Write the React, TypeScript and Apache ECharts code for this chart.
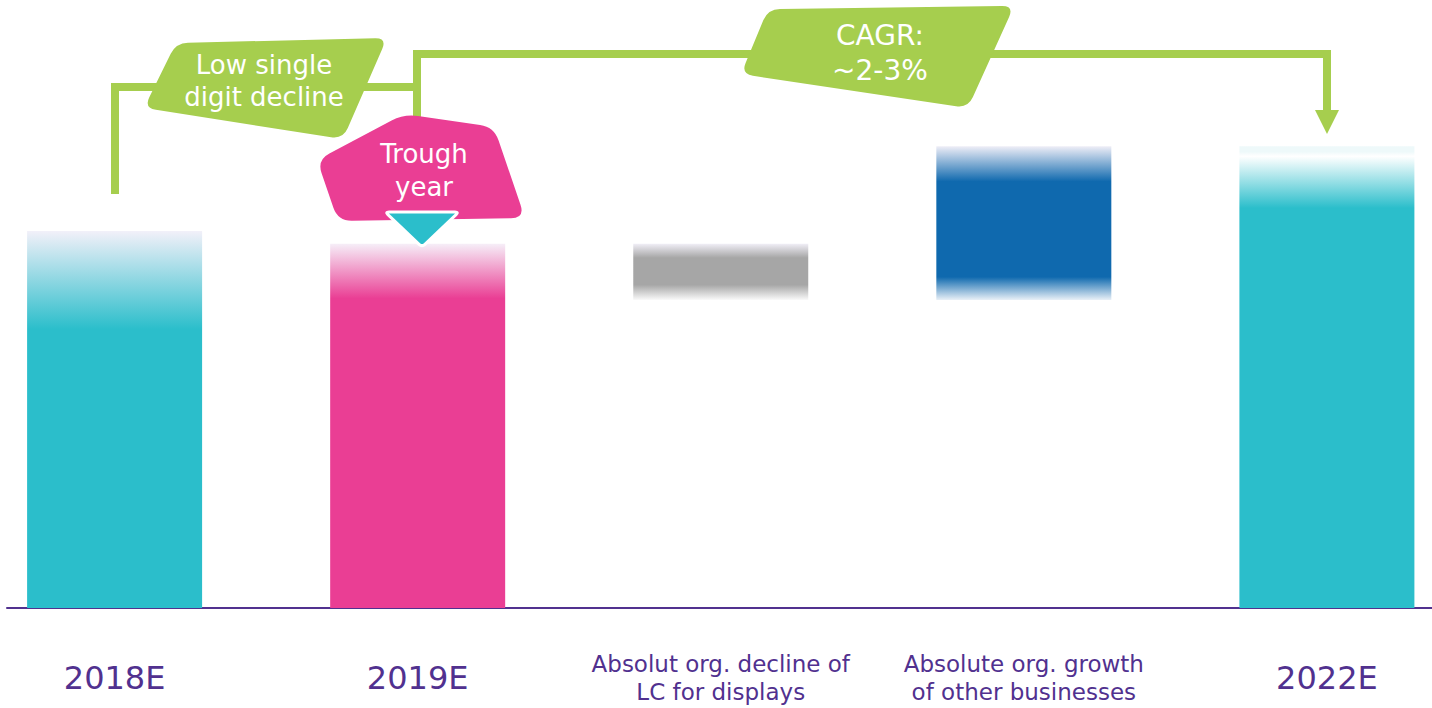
import React, { useEffect, useRef } from "react";
import * as echarts from "echarts";

const categories = [
  "2018E",
  "2019E",
  "Absolut org. decline of\nLC for displays",
  "Absolute org. growth\nof other businesses",
  "2022E",
];
// kind: total bars start at zero, delta bars float on the running level
const kinds = ["total", "total", "delta", "delta", "total"];
const values = [100, 96.6, -14.9, 40.8, 122.5];

const TEAL = "#2bbecb";
const PINK = "#ea3e94";
const GREY = "#a6a6a6";
const BLUE = "#0f69ae";
const GREEN = "#a6ce4e";
const PURPLE = "#51318f";
const FONT = "DejaVu Sans";

function roundedPath(pts: number[][], r: number): string {
  const n = pts.length;
  let d = "";
  for (let i = 0; i < n; i++) {
    const p = pts[i];
    const pr = pts[(i - 1 + n) % n];
    const nx = pts[(i + 1) % n];
    const v1 = [pr[0] - p[0], pr[1] - p[1]];
    const v2 = [nx[0] - p[0], nx[1] - p[1]];
    const l1 = Math.hypot(v1[0], v1[1]);
    const l2 = Math.hypot(v2[0], v2[1]);
    const r1 = Math.min(r, l1 / 2);
    const r2 = Math.min(r, l2 / 2);
    const a = [p[0] + (v1[0] / l1) * r1, p[1] + (v1[1] / l1) * r1];
    const b = [p[0] + (v2[0] / l2) * r2, p[1] + (v2[1] / l2) * r2];
    d += (i === 0 ? "M" : "L") + a[0].toFixed(1) + " " + a[1].toFixed(1) + " ";
    d += "Q" + p[0] + " " + p[1] + " " + b[0].toFixed(1) + " " + b[1].toFixed(1) + " ";
  }
  return d + "Z";
}

const lowPts = [[176, 43], [387, 38], [343, 139], [144, 108]];
const cagrPts = [[768, 9], [1014, 6], [968, 108], [741, 74]];
const troughPts = [[317, 160], [404, 114], [494, 127], [525, 218], [338, 221]];
const triPts = [[385, 212], [459, 212], [422, 247]];

echarts.graphic.registerShape("calloutLow", echarts.graphic.extendPath(roundedPath(lowPts, 12), {}) as any);
echarts.graphic.registerShape("calloutCagr", echarts.graphic.extendPath(roundedPath(cagrPts, 12), {}) as any);
echarts.graphic.registerShape("calloutTrough", echarts.graphic.extendPath(roundedPath(troughPts, 14), {}) as any);
echarts.graphic.registerShape("triMark", echarts.graphic.extendPath(roundedPath(triPts, 4), {}) as any);

function grad(stops: [number, string][]) {
  return new echarts.graphic.LinearGradient(
    0, 0, 0, 1,
    stops.map(([offset, color]) => ({ offset, color }))
  );
}

const fills = [
  grad([[0, "#f2f0f9"], [0.26, TEAL], [1, TEAL]]),
  grad([[0, "#f6eef8"], [0.15, PINK], [1, PINK]]),
  grad([[0, "#f0eef6"], [0.25, GREY], [0.73, GREY], [1, "#fafafa"]]),
  grad([[0, "#efeef7"], [0.23, BLUE], [0.85, BLUE], [1, "#e9f0f7"]]),
  grad([[0, "#eef9fa"], [0.012, "#eef9fa"], [0.022, "#ffffff"], [0.134, TEAL], [1, TEAL]]),
];

export default function App() {
  const ref = useRef<HTMLDivElement>(null);
  useEffect(() => {
    if (!ref.current) return;
    const chart = echarts.init(ref.current, null, { renderer: "svg" });

    const bases: number[] = [];
    const heights: number[] = [];
    let level = 0;
    values.forEach((v, i) => {
      if (kinds[i] === "total") {
        bases.push(0);
        heights.push(v);
        level = v;
      } else {
        const next = level + v;
        bases.push(Math.min(level, next));
        heights.push(Math.abs(v));
        level = next;
      }
    });

    chart.setOption({
      animation: false,
      grid: [
        { left: 114.6, right: 105.1, top: 42.5, bottom: 100 },
        { left: 7, right: 0, top: 42.5, bottom: 100 },
      ],
      xAxis: [
        {
          type: "category",
          gridIndex: 0,
          data: categories,
          boundaryGap: false,
          axisLine: { show: false },
          axisTick: { show: false },
          splitLine: { show: false },
          axisLabel: {
            interval: 0,
            margin: 42,
            formatter: (v: string) =>
              v.indexOf("\n") >= 0
                ? v.split("\n").map((l) => "{s|" + l + "}").join("\n")
                : "{y|" + v + "}",
            rich: {
              y: { fontSize: 32, lineHeight: 56, color: PURPLE, fontFamily: FONT },
              s: { fontSize: 23, lineHeight: 28, color: PURPLE, fontFamily: FONT },
            },
          },
        },
        {
          type: "value",
          gridIndex: 1,
          min: 0,
          max: 1,
          axisLine: { show: true, lineStyle: { color: PURPLE, width: 2 } },
          axisTick: { show: false },
          axisLabel: { show: false },
          splitLine: { show: false },
        },
      ],
      yAxis: [
        { type: "value", gridIndex: 0, min: 0, max: 150, show: false, splitLine: { show: false } },
        { type: "value", gridIndex: 1, min: 0, max: 1, show: false, splitLine: { show: false } },
      ],
      series: [
        {
          type: "bar",
          stack: "w",
          barWidth: 175,
          silent: true,
          itemStyle: { color: "transparent" },
          data: bases,
        },
        {
          type: "bar",
          stack: "w",
          barWidth: 175,
          data: heights.map((h, i) => ({ value: h, itemStyle: { color: fills[i] } })),
        },
      ],
      graphic: [
        {
          type: "polyline",
          z: 10,
          shape: { points: [[115, 194], [115, 87], [417, 87]] },
          style: { stroke: GREEN, lineWidth: 8, fill: null, lineJoin: "miter" },
        },
        {
          type: "polyline",
          z: 10,
          shape: { points: [[417, 130], [417, 54], [1327, 54], [1327, 112]] },
          style: { stroke: GREEN, lineWidth: 8, fill: null, lineJoin: "miter" },
        },
        {
          type: "polygon",
          z: 10,
          shape: { points: [[1315, 110], [1339, 110], [1327, 134]] },
          style: { fill: GREEN },
        },
        { type: "calloutLow", z: 20, x: 0, y: 0, style: { fill: GREEN } },
        { type: "calloutCagr", z: 20, x: 0, y: 0, style: { fill: GREEN } },
        { type: "calloutTrough", z: 20, x: 0, y: 0, style: { fill: PINK } },
        { type: "triMark", z: 30, x: 0, y: 0, style: { fill: TEAL, stroke: "#ffffff", lineWidth: 3 } },
        {
          type: "text",
          z: 40,
          x: 264,
          y: 81,
          style: {
            text: "Low single\ndigit decline",
            fill: "#ffffff",
            font: "26px " + FONT,
            lineHeight: 32,
            align: "center",
            verticalAlign: "middle",
          },
        },
        {
          type: "text",
          z: 40,
          x: 880,
          y: 53,
          style: {
            text: "CAGR:\n~2-3%",
            fill: "#ffffff",
            font: "28px " + FONT,
            lineHeight: 35,
            align: "center",
            verticalAlign: "middle",
          },
        },
        {
          type: "text",
          z: 40,
          x: 424,
          y: 170,
          style: {
            text: "Trough\nyear",
            fill: "#ffffff",
            font: "26px " + FONT,
            lineHeight: 33,
            align: "center",
            verticalAlign: "middle",
          },
        },
      ],
    });
    return () => chart.dispose();
  }, []);
  return (
    <div
      ref={ref}
      style={{ position: "fixed", left: 0, top: 0, width: 1432, height: 708, background: "#ffffff" }}
    />
  );
}
